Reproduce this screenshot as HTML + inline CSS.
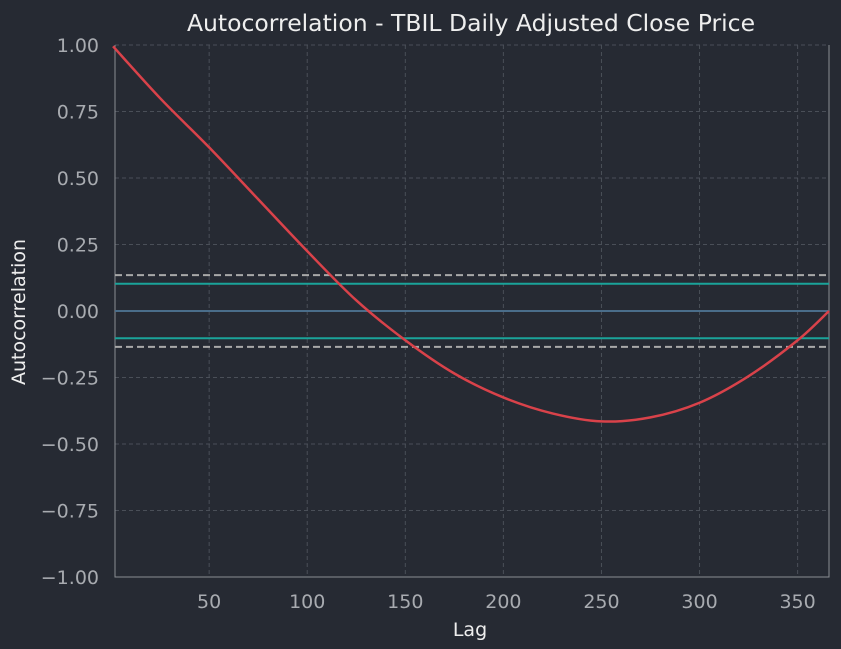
<!DOCTYPE html>
<html><head><meta charset="utf-8"><style>
html,body{margin:0;padding:0;background:#262a33;width:841px;height:649px;overflow:hidden}
svg{display:block;font-family:"DejaVu Sans","Liberation Sans",sans-serif}
</style></head><body>
<svg id="chart" width="841" height="649">
<rect width="841" height="649" fill="#262a33"/>
<text x="471" y="31" fill="#eeeeee" font-size="23.5" text-anchor="middle">Autocorrelation - TBIL Daily Adjusted Close Price</text>
<text x="470" y="636" fill="#eeeeee" font-size="19" text-anchor="middle">Lag</text>
<text x="25" y="312" fill="#eeeeee" font-size="19" text-anchor="middle" transform="rotate(-90 25 312)">Autocorrelation</text>
<g id="grid"></g><g id="ticks"></g><g id="marks"></g>
</svg>
<script>
const lags=[1,25,50,75,100,125,150,175,200,225,250,275,300,325,350,366];
const acf=[0.995,0.80,0.615,0.42,0.225,0.04,-0.11,-0.235,-0.325,-0.385,-0.415,-0.40,-0.345,-0.245,-0.11,0.0];
const xTicks=[50,100,150,200,250,300,350];
const yTicks=[1.00,0.75,0.50,0.25,0.00,-0.25,-0.50,-0.75,-1.00];
const nObs=366;
const L=115,R=829,T=45,B=577,xMin=2,xMax=366;
const X=v=>L+(v-xMin)/(xMax-xMin)*(R-L);
const Y=v=>T+(1-v)/2*(B-T);
const NS='http://www.w3.org/2000/svg';
function mk(tag,attrs,parent){const e=document.createElementNS(NS,tag);for(const k in attrs)e.setAttribute(k,attrs[k]);document.getElementById(parent).appendChild(e);return e;}
xTicks.forEach(t=>{
 const g=mk('line',{x1:X(t),x2:X(t),y1:T,y2:B,stroke:'#4a4f58','stroke-dasharray':'4,3'},'grid');
 
 
 const tx=mk('text',{x:X(t),y:B+31,fill:'#a8abb0','font-size':19,'text-anchor':'middle'},'ticks');tx.textContent=t;
 
 
});
yTicks.forEach(t=>{
 const g=mk('line',{x1:L,x2:R,y1:Y(t),y2:Y(t),stroke:'#4a4f58','stroke-dasharray':'4,3'},'grid');
 
 
 const tx=mk('text',{x:L-16,y:Y(t)+7,fill:'#a8abb0','font-size':19,'text-anchor':'end'},'ticks');tx.textContent=(t<0?'\u2212'+(-t).toFixed(2):t.toFixed(2));
 
 
});
const ax=mk('path',{d:`M${L},${T}V${B}H${R}V${T}`,fill:'none',stroke:'#8a8d93','stroke-width':1},'ticks');


const z95=1.959963985/Math.sqrt(nObs), z99=2.5758293035/Math.sqrt(nObs);
[[z99,'#a9a9a9','7,4','conf-99-upper'],[-z99,'#a9a9a9','7,4','conf-99-lower'],[z95,'#1aa39a','','conf-95-upper'],[-z95,'#1aa39a','','conf-95-lower'],[0,'#4a6d8a','','zero-line']].forEach(([v,c,d,n])=>{
 const a={x1:L,x2:R,y1:Y(v),y2:Y(v),stroke:c,'stroke-width':2};if(d)a['stroke-dasharray']=d;
 const l=mk('line',a,'marks');
 
 
});
const P=lags.map((l,i)=>[X(l),Y(acf[i])]);
let d=`M${P[0][0]},${P[0][1]}`;
for(let i=0;i<P.length-1;i++){const p0=P[Math.max(0,i-1)],p1=P[i],p2=P[i+1],p3=P[Math.min(P.length-1,i+2)];
 d+=` C${p1[0]+(p2[0]-p0[0])/6},${p1[1]+(p2[1]-p0[1])/6} ${p2[0]-(p3[0]-p1[0])/6},${p2[1]-(p3[1]-p1[1])/6} ${p2[0]},${p2[1]}`;}
const c=mk('path',{d:d,fill:'none',stroke:'#d9424a','stroke-width':2.5},'marks');


</script>
</body></html>
